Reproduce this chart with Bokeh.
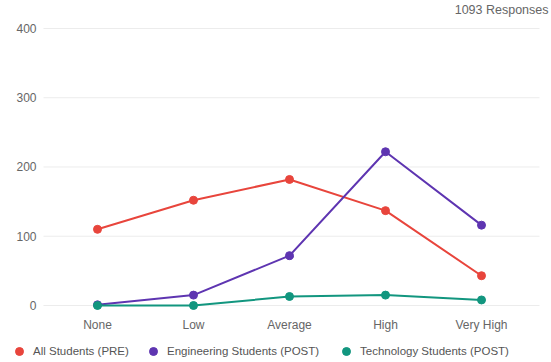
from bokeh.plotting import figure
from bokeh.models import (Range1d, FixedTicker, Legend, LegendItem, Label,
                          LinearAxis)
from bokeh.embed import file_html
from bokeh.resources import INLINE

# Ratings scale and counts per rating for each student group
categories = ["None", "Low", "Average", "High", "Very High"]
all_students_pre = [110, 152, 182, 137, 43]
engineering_post = [1, 15, 72, 222, 116]
technology_post = [0, 0, 13, 15, 8]
y_ticks = [0, 100, 200, 300, 400]
responses_text = "1093 Responses"

series = [
    ("All Students (PRE)", all_students_pre, "#e8453c"),
    ("Engineering Students (POST)", engineering_post, "#5e35b1"),
    ("Technology Students (POST)", technology_post, "#12967f"),
]

FONT = "Liberation Sans"
x = list(range(len(categories)))

# plot area edges (data units) used for the axes and grid lines
X_LEFT, X_RIGHT = -0.5625, 4.604
Y_BOTTOM = -14.4

p = figure(
    width=551, height=362,
    x_range=Range1d(-1.0104, 4.729), y_range=Range1d(-82.31, 440.43),
    x_axis_type=None, y_axis_type=None,
    output_backend="svg", toolbar_location=None, min_border=0,
)
p.outline_line_color = None
p.background_fill_color = "white"
p.border_fill_color = "white"
p.grid.visible = False


def style_axis(ax, standoff):
    ax.axis_line_color = None
    ax.major_tick_line_color = None
    ax.minor_tick_line_color = None
    ax.major_tick_out = 0
    ax.major_tick_in = 0
    ax.minor_tick_out = 0
    ax.minor_tick_in = 0
    ax.major_label_standoff = standoff
    ax.major_label_text_font = FONT
    ax.major_label_text_font_size = "12px"
    ax.major_label_text_color = "#666666"


xaxis = LinearAxis(ticker=FixedTicker(ticks=x), fixed_location=Y_BOTTOM,
                   major_label_overrides={i: c for i, c in zip(x, categories)})
style_axis(xaxis, 3)
p.add_layout(xaxis, "below")

yaxis = LinearAxis(ticker=FixedTicker(ticks=y_ticks), fixed_location=X_LEFT)
style_axis(yaxis, 7)
p.add_layout(yaxis, "left")

# horizontal grid lines across the plot area
p.segment(x0=X_LEFT, x1=X_RIGHT, y0=y_ticks, y1=y_ticks,
          line_color="#ececec", line_width=1)

dots = []
for name, vals, color in series:
    p.line(x, vals, line_color=color, line_width=2)
    r = p.scatter(x, vals, size=8, fill_color=color, line_color=color)
    dots.append((name, r))

# one legend per series, in a row along the bottom
legend_x = [9, 143, 336]
for (name, r), lx in zip(dots, legend_x):
    lg = Legend(
        items=[LegendItem(label=name, renderers=[r])],
        location=(lx, 1), orientation="horizontal",
        glyph_width=20, glyph_height=20,
        label_standoff=4, padding=0, margin=0, spacing=0,
        border_line_color=None, background_fill_alpha=0,
        label_text_font=FONT, label_text_font_size="11.5px",
        label_text_color="#555555",
    )
    p.add_layout(lg)

p.add_layout(Label(
    x=548, y=353, x_units="screen", y_units="screen",
    text=responses_text, text_align="right", text_baseline="middle",
    text_font=FONT, text_font_size="12.5px", text_color="#666666",
))

open("out.html", "w").write(file_html(p, INLINE))
